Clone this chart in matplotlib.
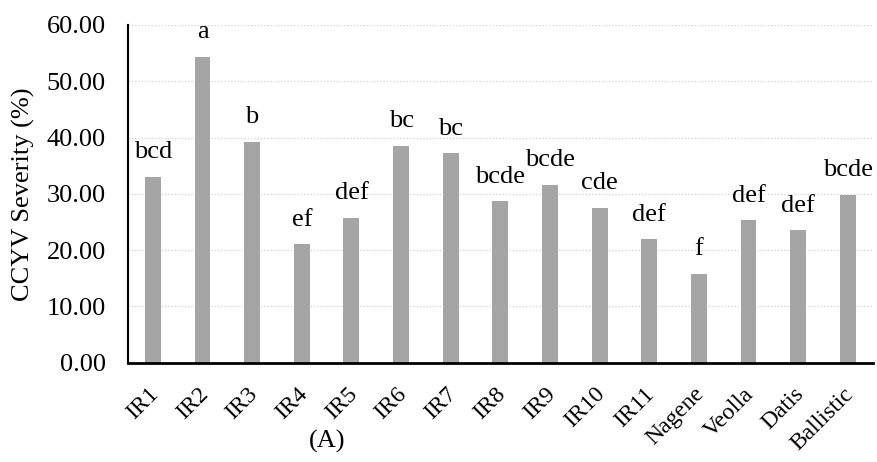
import matplotlib.pyplot as plt
from matplotlib.transforms import ScaledTranslation

# data
cultivars = ["IR1", "IR2", "IR3", "IR4", "IR5", "IR6", "IR7", "IR8", "IR9",
             "IR10", "IR11", "Nagene", "Veolla", "Datis", "Ballistic"]
severity = [33.0, 54.3, 39.2, 21.0, 25.7, 38.5, 37.2, 28.7, 31.6,
            27.5, 21.9, 15.8, 25.3, 23.5, 29.8]
letters = ["bcd", "a", "b", "ef", "def", "bc", "bc", "bcde", "bcde",
           "cde", "def", "f", "def", "def", "bcde"]

plt.rcParams['font.family'] = ['Liberation Serif', 'DejaVu Serif']

fig = plt.figure(figsize=(8.77, 4.62), dpi=100)
ax = fig.add_axes([0.146, 0.215, 0.849, 0.731])

x = range(len(cultivars))
ax.bar(x, severity, width=0.32, color='#a5a5a5', zorder=2)

for i, (v, t) in enumerate(zip(severity, letters)):
    ax.text(i, v + 3.3, t, ha='center', va='baseline', fontsize=19)

ax.set_xlim(-0.5, len(cultivars) - 0.5)
ax.set_ylim(0, 60)
ax.set_yticks(range(0, 61, 10))
ax.set_yticklabels([f"{v:.2f}" for v in range(0, 61, 10)], fontsize=19)
ax.set_xticks(list(x))
ax.set_xticklabels(cultivars, rotation=45, ha='right', va='top',
                   rotation_mode='anchor', fontsize=17)
ax.tick_params(axis='y', length=0, pad=16)
ax.tick_params(axis='x', length=0, pad=15)
# nudge rotated labels a little to the left
shift = ScaledTranslation(-0.05, 0, fig.dpi_scale_trans)
for lbl in ax.get_xticklabels():
    lbl.set_transform(lbl.get_transform() + shift)
ax.set_ylabel("CCYV Severity (%)", fontsize=19, labelpad=8)

ax.yaxis.grid(True, color='#d0d0d0', linestyle=':', linewidth=0.9, zorder=0)
ax.set_axisbelow(True)
for s in ['top', 'right']:
    ax.spines[s].set_visible(False)
ax.spines['left'].set_linewidth(1.5)
ax.spines['bottom'].set_linewidth(2.0)

fig.text(0.373, 0.045, "(A)", ha='center', va='center', fontsize=19)

fig.savefig("out.png", dpi=100)
